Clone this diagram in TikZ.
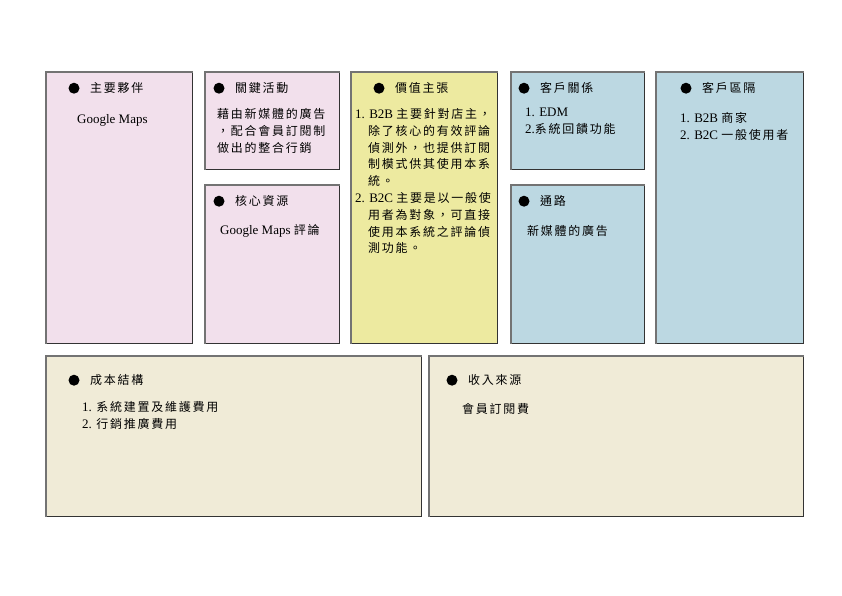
\documentclass[tikz,border=0pt]{standalone}
\usepackage{fontspec}
\setmainfont{Liberation Serif}
\newfontfamily\cjk[Scale=0.92,LetterSpace=15]{Noto Sans CJK TC}
\newcommand\zh[1]{{\cjk #1}}
\usetikzlibrary{positioning}
\definecolor{pinkcell}{RGB}{242,224,236}
\definecolor{yellowcell}{RGB}{237,234,160}
\definecolor{bluecell}{RGB}{188,216,226}
\definecolor{beigecell}{RGB}{240,235,215}

\tikzset{
  cell/.style={draw=black!80, line width=0.6pt, fill=#1, anchor=north west, inner sep=0pt},
  head/.style={anchor=base west, inner sep=0pt, font=\fontsize{13}{16.8}\selectfont},
  body/.style={anchor=north west, inner sep=0pt, align=left,
    font=\fontsize{13}{16.8}\selectfont, execute at begin node=\strut},
}

\begin{document}
\begin{tikzpicture}[x=1pt,y=-1pt]
\useasboundingbox (0,0) rectangle (842,595);

% ---- Canvas cells ----
\node[cell=pinkcell,   minimum width=146pt, minimum height=271pt] (kp)   at (46,72)  {};
\node[cell=pinkcell,   minimum width=134pt, minimum height=97pt]  (ka)   at (205,72) {};
\node[cell=pinkcell,   minimum width=134pt, minimum height=158pt] (kr)   at (205,185) {};
\node[cell=yellowcell, minimum width=146pt, minimum height=271pt] (vp)   at (351,72) {};
\node[cell=bluecell,   minimum width=133pt, minimum height=97pt]  (cr)   at (511,72) {};
\node[cell=bluecell,   minimum width=133pt, minimum height=158pt] (ch)   at (511,185) {};
\node[cell=bluecell,   minimum width=147pt, minimum height=271pt] (cs)   at (656,72) {};
\node[cell=beigecell,  minimum width=375pt, minimum height=160pt] (cost) at (46,356) {};
\node[cell=beigecell,  minimum width=374pt, minimum height=160pt] (rev)  at (429,356) {};

% ---- Inset edges (left/top) ----
\foreach \n in {kp,ka,kr,vp,cr,ch,cs,cost,rev} {
  \draw[black!55, line width=1.4pt] (\n.south west) -- (\n.north west) -- (\n.north east);
}

% ---- Headings ----
\node[head] (kp-t)   at (90,92.5)   {\zh{主要夥伴}};
\node[head] (ka-t)   at (235,92.5)  {\zh{關鍵活動}};
\node[head] (kr-t)   at (235,205.5) {\zh{核心資源}};
\node[head] (vp-t)   at (395,92.5)  {\zh{價值主張}};
\node[head] (cr-t)   at (540,92.5)  {\zh{客戶關係}};
\node[head] (ch-t)   at (540,205.5) {\zh{通路}};
\node[head] (cs-t)   at (702,92.5)  {\zh{客戶區隔}};
\node[head] (cost-t) at (90,384.5)  {\zh{成本結構}};
\node[head] (rev-t)  at (468,384.5) {\zh{收入來源}};

% ---- Bullets ----
\foreach \n in {kp-t,ka-t,kr-t,vp-t,cr-t,ch-t,cs-t,cost-t,rev-t} {
  \fill ([xshift=-16pt,yshift=4.3pt]\n.base west) circle (5.5pt);
}

% ---- Contents ----
\node[body] (kp-b)   at (77,111.5)  {Google Maps};
\node[body] (ka-b)   at (217,108.2) {\zh{藉由新媒體的廣告}\\\zh{，配合會員訂閱制}\\\zh{做出的整合行銷}};
\node[body] (kr-b)   at (220,222.5) {Google Maps \zh{評論}};
\node[body] (vp-b)   at (355,108.2) {1. B2B \zh{主要針對店主，}\\
  \hspace*{13pt}\zh{除了核心的有效評論}\\
  \hspace*{13pt}\zh{偵測外，也提供訂閱}\\
  \hspace*{13pt}\zh{制模式供其使用本系}\\
  \hspace*{13pt}\zh{統。}\\
  2. B2C \zh{主要是以一般使}\\
  \hspace*{13pt}\zh{用者為對象，可直接}\\
  \hspace*{13pt}\zh{使用本系統之評論偵}\\
  \hspace*{13pt}\zh{測功能。}};
\node[body] (cr-b)   at (525,108.2) {1. EDM\\2.\zh{系統回饋功能}};
\node[body] (ch-b)   at (527,223.2) {\zh{新媒體的廣告}};
\node[body] (cs-b)   at (680,112.2) {1. B2B \zh{商家}\\2. B2C \zh{一般使用者}};
\node[body] (cost-b) at (82,401.2)  {1. \zh{系統建置及維護費用}\\2. \zh{行銷推廣費用}};
\node[body] (rev-b)  at (462,401.2) {\zh{會員訂閱費}};

\end{tikzpicture}
\end{document}
